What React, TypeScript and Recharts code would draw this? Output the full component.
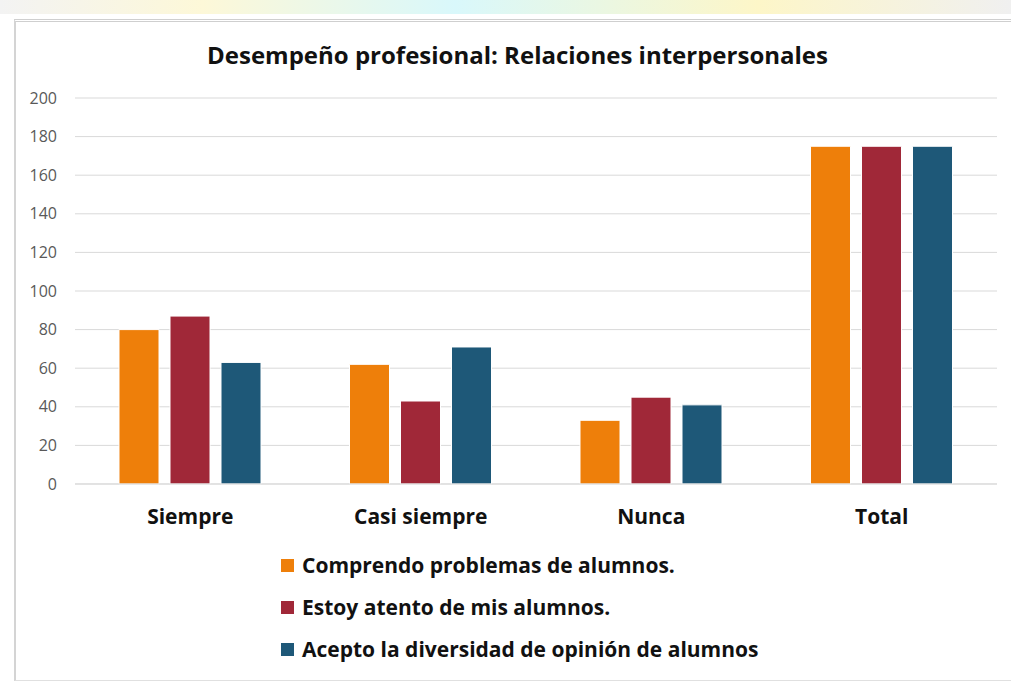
import { BarChart, Bar, XAxis, YAxis, CartesianGrid, Legend } from 'recharts';

const categories = ['Siempre', 'Casi siempre', 'Nunca', 'Total'];
const comprendo = [80, 62, 33, 175];
const atento = [87, 43, 45, 175];
const acepto = [63, 71, 41, 175];
const yTicks = [0, 20, 40, 60, 80, 100, 120, 140, 160, 180, 200];

const series = [
  { key: 'comprendo', name: 'Comprendo problemas de alumnos.', color: '#EE7F0A' },
  { key: 'atento', name: 'Estoy atento de mis alumnos.', color: '#A02838' },
  { key: 'acepto', name: 'Acepto la diversidad de opinión de alumnos', color: '#1E5878' },
];

const chartData = categories.map((name, i) => ({
  name,
  comprendo: comprendo[i],
  atento: atento[i],
  acepto: acepto[i],
}));

const font = '"Open Sans", "Noto Sans", sans-serif';

const LegendBox = () => (
  <div style={{ fontFamily: font }}>
    {series.map(s => (
      <div key={s.key} style={{ display: 'flex', alignItems: 'center', height: 42 }}>
        <span style={{ width: 13, height: 13, background: s.color, marginRight: 8, display: 'inline-block', flexShrink: 0 }} />
        <span style={{ fontSize: 21, fontWeight: 700, color: '#111', whiteSpace: 'nowrap' }}>{s.name}</span>
      </div>
    ))}
  </div>
);

export default function App() {
  return (
    <div style={{ position: 'fixed', left: 0, top: 0, width: 1011, height: 681, background: '#fff', overflow: 'hidden' }}>
      <div style={{ position: 'absolute', left: 0, top: 0, width: 1011, height: 14, background: 'linear-gradient(90deg, #f3f3f3 0%, #fdf8d8 20%, #d9f8fb 45%, #fdf6c8 75%, #f0f0f0 100%)' }} />
      <div style={{ position: 'absolute', left: 14, top: 19, width: 1010, height: 658, borderTop: '3px double #cfcfcf', borderLeft: '2px solid #d4d4d4', borderBottom: '1px solid #e0e0e0' }} />
      <div style={{ position: 'absolute', left: 0, top: 38, width: 1035, textAlign: 'center', fontFamily: font, fontWeight: 700, fontSize: 24, color: '#111', whiteSpace: 'nowrap' }}>
        Desempeño profesional: Relaciones interpersonales
      </div>
      <div style={{ position: 'absolute', left: 0, top: 0 }}>
        <BarChart
          width={1011}
          height={681}
          data={chartData}
          margin={{ top: 98, right: 14, bottom: 167, left: 15 }}
          barSize={40}
          barGap={11}
        >
          <CartesianGrid vertical={false} stroke="#d9d9d9" />
          <XAxis
            dataKey="name"
            axisLine={{ stroke: '#d9d9d9' }}
            tickLine={false}
            tickSize={8}
            tickMargin={17}
            tick={{ fontFamily: font, fontSize: 21, fontWeight: 700, fill: '#111' }}
          />
          <YAxis
            width={60}
            domain={[0, 200]}
            ticks={yTicks}
            axisLine={false}
            tickLine={false}
            tickSize={8}
            tickMargin={10}
            tick={{ fontFamily: font, fontSize: 16, fill: '#595959' }}
          />
          <Legend
            layout="vertical"
            verticalAlign="middle"
            align="center"
            content={<LegendBox />}
            wrapperStyle={{ left: 281, top: 544, width: 620 }}
          />
          {series.map(s => (
            <Bar key={s.key} dataKey={s.key} name={s.name} fill={s.color} stroke="#fff" strokeWidth={1} isAnimationActive={false} />
          ))}
        </BarChart>
      </div>
    </div>
  );
}
